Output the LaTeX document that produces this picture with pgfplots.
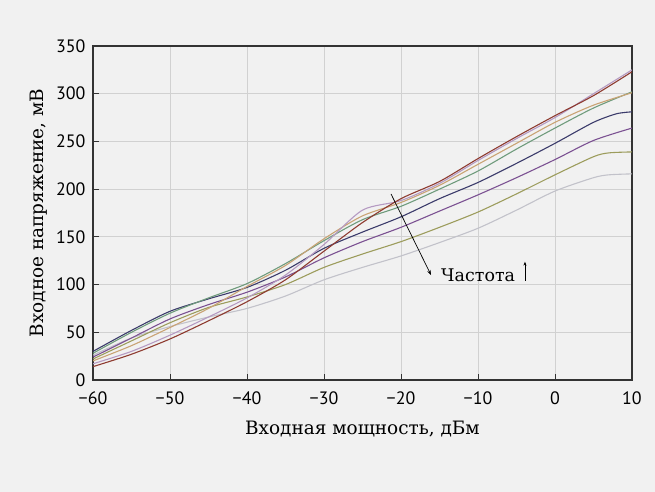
\documentclass[border=0pt]{standalone}
\usepackage{pgfplots}
\pgfplotsset{compat=1.18}
\usepackage{fontspec}
\setmainfont{DejaVu Serif}
\newfontfamily\tickfont{PT Sans}
\usetikzlibrary{arrows.meta}
\definecolor{bg}{HTML}{F1F1F1}
\definecolor{cbrown}{HTML}{8E3B30}
\definecolor{clav}{HTML}{B59AC2}
\definecolor{ctan}{HTML}{C9A374}
\definecolor{cgreen}{HTML}{6F9B7C}
\definecolor{cnavy}{HTML}{3B3B6B}
\definecolor{cpurple}{HTML}{7B5192}
\definecolor{colive}{HTML}{9C9C5C}
\definecolor{cgray}{HTML}{C2C2CA}
\begin{document}
\begin{tikzpicture}
\fill[bg] (0,0) rectangle (655bp,492bp);
\begin{axis}[
  at={(93bp,112bp)}, anchor=south west,
  width=539bp, height=334bp, scale only axis,
  xmin=-60, xmax=10, ymin=0, ymax=350,
  xtick={-60,-50,...,10}, ytick={0,50,...,350},
  xticklabels={−60,−50,−40,−30,−20,−10,0,10},
  grid=major, major grid style={draw=black!18, line width=0.8pt},
  axis line style={draw=black!80, line width=1.2pt},
  tick style={draw=black!80, line width=1pt},
  tick align=inside, xtick pos=bottom, ytick pos=left,
  major tick length=6bp,
  ticklabel style={font=\tickfont\fontsize{18}{18}\selectfont},
  /pgf/number format/assume math mode=true,
  /pgf/number format/1000 sep={},
  xticklabel style={yshift=-8bp},
  yticklabel style={xshift=-4bp},
  xlabel={Входная мощность, дБм},
  ylabel={Входное напряжение, мВ},
  label style={font=\fontsize{18.5}{18.5}\selectfont},
  xlabel style={yshift=-10bp},
  ylabel style={yshift=2bp},
  every axis plot/.append style={smooth, tension=0.45, line width=1.1pt, mark=none},
]
\addplot[cgray] coordinates {(-60,26)(-55,44)(-50,56)(-45,66)(-40,75)(-35,88)(-30,105)(-25,118)(-20,130)(-15,144)(-10,159)(-5,178)(0,198)(5,212)(7,215)(10,216)};
\addplot[colive] coordinates {(-60,22)(-55,41)(-50,60)(-45,76)(-40,87)(-35,100)(-30,118)(-25,132)(-20,145)(-15,160)(-10,176)(-5,195)(0,215)(5,234)(7,238)(10,239)};
\addplot[cpurple] coordinates {(-60,24)(-55,44)(-50,64)(-45,79)(-40,92)(-35,108)(-30,128)(-25,145)(-20,160)(-15,177)(-10,194)(-5,212)(0,231)(5,251)(10,264)};
\addplot[cnavy] coordinates {(-60,30)(-55,52)(-50,72)(-45,85)(-40,97)(-35,115)(-30,138)(-25,155)(-20,171)(-15,190)(-10,207)(-5,227)(0,248)(5,270)(8,279)(10,281)};
\addplot[cgreen] coordinates {(-60,28)(-55,50)(-50,70)(-45,86)(-40,101)(-35,122)(-30,146)(-25,168)(-20,182)(-15,200)(-10,219)(-5,242)(0,264)(5,285)(10,302)};
\addplot[ctan] coordinates {(-60,20)(-55,36)(-50,55)(-45,75)(-40,98)(-35,120)(-30,148)(-25,172)(-20,186)(-15,204)(-10,226)(-5,248)(0,270)(5,288)(10,301)};
\addplot[clav] coordinates {(-60,17)(-55,30)(-50,47)(-45,66)(-40,86)(-35,110)(-30,142)(-25,178)(-20,188)(-15,206)(-10,230)(-5,253)(0,275)(5,300)(10,325)};
\addplot[cbrown] coordinates {(-60,14)(-55,27)(-50,43)(-45,62)(-40,82)(-35,105)(-30,135)(-25,165)(-20,190)(-15,208)(-10,232)(-5,255)(0,277)(5,298)(10,323)};
\draw[-{Stealth[length=5bp,width=3.5bp]}, line width=0.7pt] (axis cs:-21.3,195) -- (axis cs:-16.1,110);
\node[anchor=base west, inner sep=0pt, font=\fontsize{17.5}{17.5}\selectfont] at (axis cs:-14.8,103) {Частота};
\draw[-{Stealth[length=4bp,width=3bp]}, line width=0.8pt] (axis cs:-3.9,104) -- (axis cs:-3.9,124);
\end{axis}
\pgfresetboundingbox
\path (0,0) rectangle (655bp,492bp);
\end{tikzpicture}
\end{document}
